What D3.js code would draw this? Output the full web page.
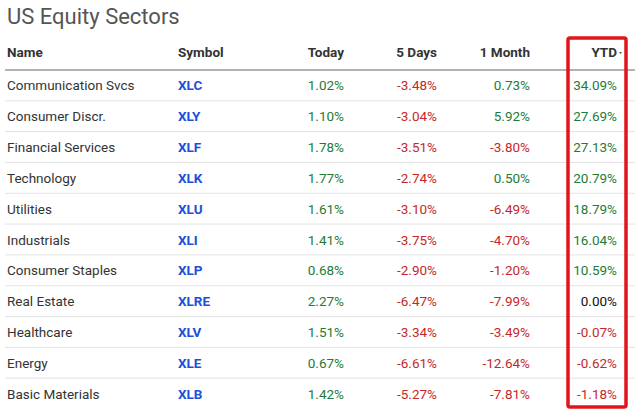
<!DOCTYPE html>
<html><head><meta charset="utf-8">
<script src="https://cdn.jsdelivr.net/npm/d3@7"></script>
<style>body{margin:0;background:#fff}text{font-family:Roboto,sans-serif}</style>
</head><body><svg id="c" width="640" height="412"></svg>
<script>
const names=["Communication Svcs","Consumer Discr.","Financial Services","Technology","Utilities","Industrials","Consumer Staples","Real Estate","Healthcare","Energy","Basic Materials"];
const symbols=["XLC","XLY","XLF","XLK","XLU","XLI","XLP","XLRE","XLV","XLE","XLB"];
const today=[1.02,1.10,1.78,1.77,1.61,1.41,0.68,2.27,1.51,0.67,1.42];
const days5=[-3.48,-3.04,-3.51,-2.74,-3.10,-3.75,-2.90,-6.47,-3.34,-6.61,-5.27];
const month1=[0.73,5.92,-3.80,0.50,-6.49,-4.70,-1.20,-7.99,-3.49,-12.64,-7.81];
const ytd=[34.09,27.69,27.13,20.79,18.79,16.04,10.59,0.00,-0.07,-0.62,-1.18];
const headers=["Name","Symbol","Today","5 Days","1 Month","YTD"];

const svg=d3.select("#c");
svg.append("text").attr("x",7).attr("y",24).attr("font-size",22).attr("fill","#555").text("US Equity Sectors");
const y=d3.scaleBand().domain(d3.range(names.length)).range([70,409]);
const hx=[7,178,344,437,530,617], anchor=["start","start","end","end","end","end"];
headers.forEach((h,i)=>svg.append("text").attr("x",hx[i]).attr("y",57).attr("text-anchor",anchor[i])
  .attr("font-size",13.5).attr("font-weight",700).attr("fill","#333").text(h));
svg.append("path").attr("d","M619,52 l3,0 l-1.5,2z").attr("fill","#555");
svg.append("line").attr("x1",5).attr("x2",635).attr("y1",70).attr("y2",70).attr("stroke","#999").attr("stroke-width",1.5);
const col=v=>v>0?"#1e7b3a":v<0?"#c62828":"#111";
const fmt=v=>v.toFixed(2)+"%";
names.forEach((n,i)=>{
  const cy=y(i)+y.bandwidth()/2+5;
  const g=svg.append("g");
  g.append("text").attr("x",7).attr("y",cy).attr("font-size",13.5).attr("fill","#333").text(n);
  g.append("text").attr("x",178).attr("y",cy).attr("font-size",13.5).attr("font-weight",700).attr("fill","#1d4fd8").text(symbols[i]);
  [today,days5,month1,ytd].forEach((arr,j)=>g.append("text").attr("x",hx[j+2]).attr("y",cy).attr("text-anchor","end")
    .attr("font-size",13.5).attr("fill",col(arr[i])).text(fmt(arr[i])));
  if(i<names.length-1) svg.append("line").attr("x1",5).attr("x2",635).attr("y1",y(i)+y.bandwidth()).attr("y2",y(i)+y.bandwidth()).attr("stroke","#e3e3e3");
});
svg.append("rect").attr("x",568).attr("y",38).attr("width",58).attr("height",369).attr("rx",2)
  .attr("fill","none").attr("stroke","#e0161b").attr("stroke-width",3.5);
</script></body></html>
